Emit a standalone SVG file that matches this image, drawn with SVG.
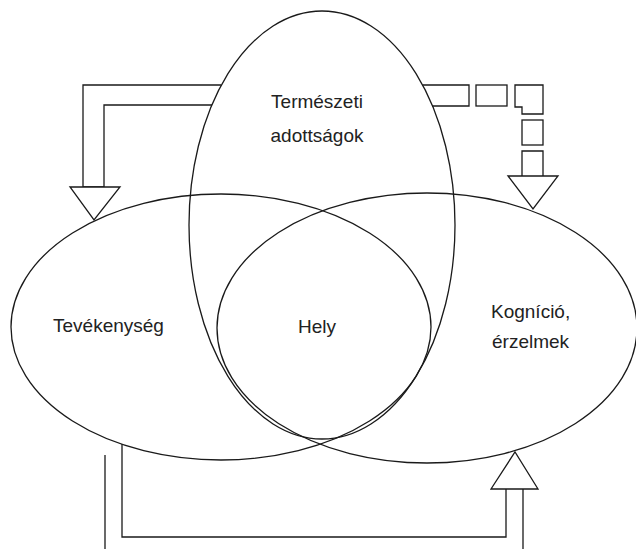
<svg xmlns="http://www.w3.org/2000/svg" width="636" height="553" viewBox="0 0 636 553">
  <style>
    .shape { fill: none; stroke: #1a1a1a; stroke-width: 1.3; }
    .link { fill: none; stroke: #1a1a1a; stroke-width: 1.3; stroke-linejoin: miter; }
    .head { fill: #ffffff; stroke: #1a1a1a; stroke-width: 1.3; stroke-linejoin: miter; }
    .label { font-family: "Liberation Sans", Arial, sans-serif; font-size: 19px; fill: #222222; }
  </style>
  <rect width="636" height="553" fill="#ffffff"/>

  <!-- Connectors -->
  <g id="connectors">
    <!-- Top-left bent arrow from the upper ellipse down onto the left ellipse -->
    <path class="link" d="M221,85 H83 V187 H104 V105 H212"/>
    <polygon class="head" points="70,187 120,187 94,220"/>

    <!-- Top-right dashed bent arrow onto the right ellipse -->
    <path class="link" d="M422.6,85 H469 V106 H432"/>
    <rect class="link" x="476" y="85" width="31" height="21"/>
    <polygon class="link" points="515,85 543,85 543,114 522,114 522,107 515,107"/>
    <rect class="link" x="522" y="120" width="21" height="25"/>
    <path class="link" d="M522,176 V151 H543 V176"/>
    <polygon class="head" points="508,176 558,176 533,209"/>

    <!-- Bottom loop from the left ellipse back up into the right ellipse -->
    <path class="link" d="M105,455 V549"/>
    <path class="link" d="M122,444 V537 H506 V489"/>
    <path class="link" d="M523,489 V549"/>
    <polygon class="head" points="491,489 538,489 515,452"/>
  </g>

  <!-- Upper ellipse -->
  <g id="termeszeti">
    <ellipse class="shape" cx="322" cy="225" rx="133" ry="214"/>
    <text class="label" x="317" y="108" text-anchor="middle">Természeti</text>
    <text class="label" x="317" y="142" text-anchor="middle">adottságok</text>
  </g>

  <!-- Left ellipse -->
  <g id="tevekenyseg">
    <ellipse class="shape" cx="221" cy="327" rx="210" ry="133"/>
    <text class="label" x="53" y="332">Tevékenység</text>
  </g>

  <!-- Right ellipse -->
  <g id="kognicio">
    <ellipse class="shape" cx="427" cy="328" rx="210" ry="135"/>
    <text class="label" x="491" y="318">Kogníció,</text>
    <text class="label" x="492" y="348">érzelmek</text>
  </g>

  <!-- Common core -->
  <g id="hely">
    <text class="label" x="317" y="333" text-anchor="middle">Hely</text>
  </g>
</svg>
